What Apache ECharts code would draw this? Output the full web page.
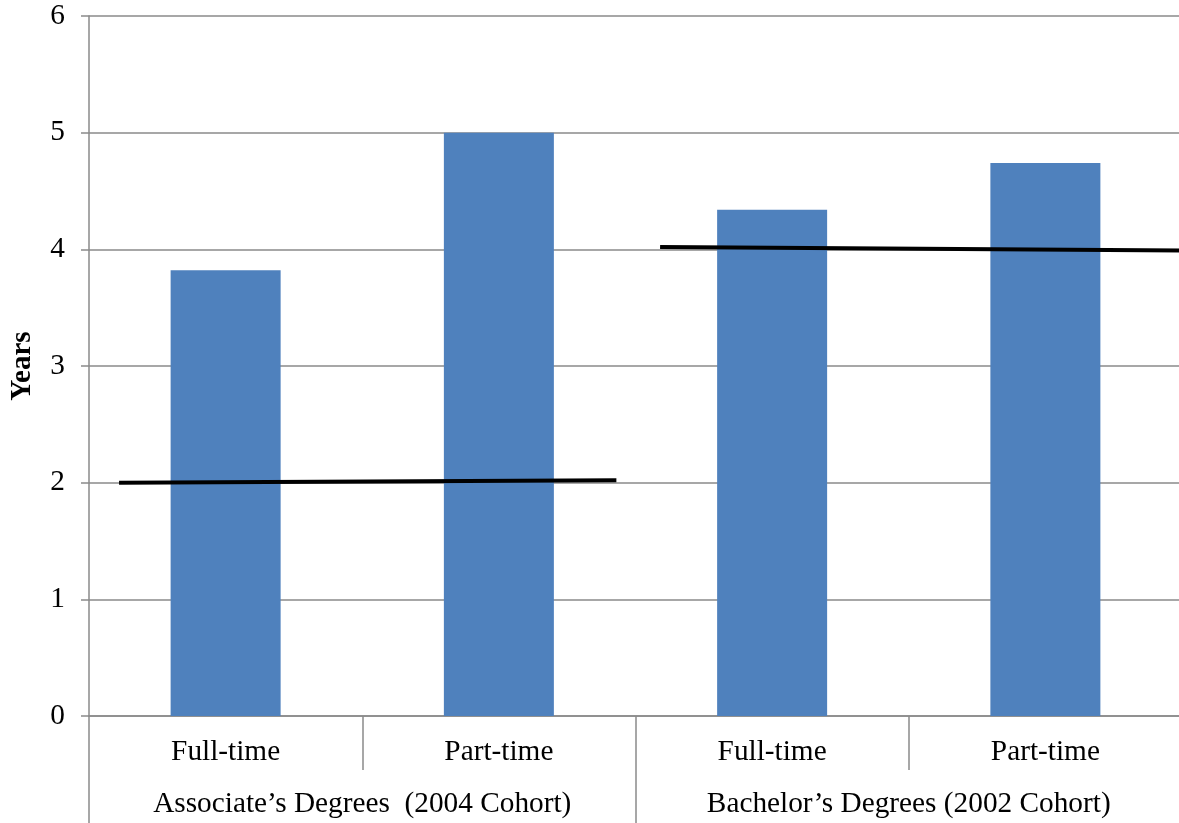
<!DOCTYPE html>
<html>
<head>
<meta charset="utf-8">
<script src="https://cdn.jsdelivr.net/npm/echarts@6/dist/echarts.min.js"></script>
<style>
  html, body { margin: 0; padding: 0; background: #ffffff; overflow: hidden; }
  #chart { width: 1186px; height: 823px; }
</style>
</head>
<body>
<div id="chart"></div>
<script>
// Enrollment status within each degree type
const categories = ['Full-time', 'Part-time', 'Full-time', 'Part-time'];
// Degree groups (outer axis level)
const groups = ['Associate\u2019s Degrees  (2004 Cohort)', 'Bachelor\u2019s Degrees (2002 Cohort)'];
// Average time to degree, in years
const years = [3.82, 5.0, 4.34, 4.74];
// Nominal program length reference lines: [position along category span, years]
const associateRef = [[0.11, 2.0], [1.93, 2.02]];
const bachelorRef = [[2.09, 4.02], [4.0, 3.99]];
// Y-axis ticks
const yMin = 0, yMax = 6, yStep = 1;

const FONT = '"Liberation Serif", "Times New Roman", serif';
const AXIS_GRAY = '#8a8a8a';

const chart = echarts.init(document.getElementById('chart'));
chart.setOption({
  animation: false,
  backgroundColor: '#ffffff',
  grid: { left: 84, right: 4, top: 16, bottom: 107, containLabel: false },
  xAxis: [
    {
      type: 'category',
      data: categories,
      position: 'bottom',
      axisLine: { show: true, lineStyle: { color: AXIS_GRAY, width: 1.5 } },
      axisTick: { show: true, interval: 0, length: 54, lineStyle: { color: AXIS_GRAY, width: 1.5 } },
      axisLabel: { interval: 0, margin: 22, color: '#000', fontSize: 29.3, fontFamily: FONT }
    },
    {
      type: 'category',
      data: groups,
      position: 'bottom',
      axisLine: { show: false },
      axisTick: { show: true, interval: 0, length: 107, lineStyle: { color: AXIS_GRAY, width: 1.5 } },
      axisLabel: { interval: 0, margin: 74, color: '#000', fontSize: 29.3, fontFamily: FONT }
    },
    {
      type: 'value',
      min: 0,
      max: 4,
      show: false
    }
  ],
  yAxis: {
    type: 'value',
    min: yMin,
    max: yMax,
    interval: yStep,
    name: 'Years',
    nameLocation: 'middle',
    nameGap: 52,
    nameTextStyle: { color: '#000', fontSize: 29, fontWeight: 'bold', fontFamily: FONT },
    axisLine: { show: true, lineStyle: { color: AXIS_GRAY, width: 1.5 } },
    axisTick: { show: true, length: 8, lineStyle: { color: AXIS_GRAY, width: 1.5 } },
    axisLabel: { margin: 24, color: '#000', fontSize: 29.3, fontFamily: FONT },
    splitLine: { show: true, lineStyle: { color: AXIS_GRAY, width: 1.5 } }
  },
  series: [
    {
      type: 'bar',
      xAxisIndex: 0,
      data: years,
      barWidth: 110,
      itemStyle: { color: '#4F81BD' }
    },
    {
      type: 'line',
      xAxisIndex: 2,
      data: associateRef,
      symbol: 'none',
      lineStyle: { color: '#000', width: 4 },
      z: 5
    },
    {
      type: 'line',
      xAxisIndex: 2,
      data: bachelorRef,
      symbol: 'none',
      lineStyle: { color: '#000', width: 4 },
      z: 5
    }
  ]
});
</script>
</body>
</html>
